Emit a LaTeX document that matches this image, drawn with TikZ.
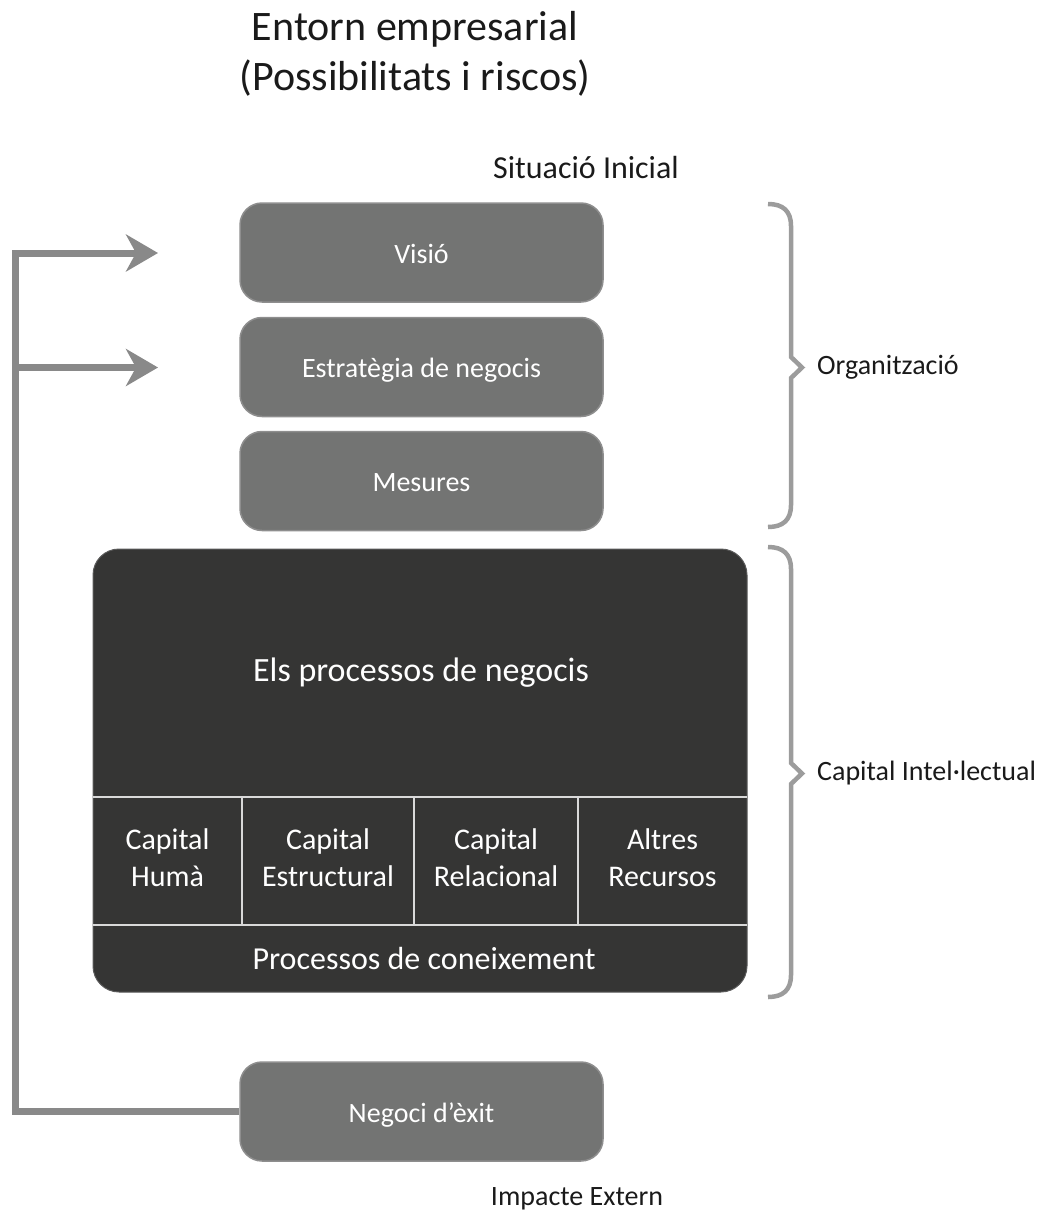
\documentclass[tikz,border=0pt]{standalone}
\usepackage{fontspec}
\setmainfont{Carlito}
\usetikzlibrary{arrows.meta}
\definecolor{boxgray}{HTML}{737473}
\definecolor{boxedge}{HTML}{8E8E8E}
\definecolor{darkfill}{HTML}{353534}
\definecolor{darkedge}{HTML}{5A5A5A}
\definecolor{linkgray}{HTML}{898989}
\definecolor{bracegray}{HTML}{9C9C9C}
\definecolor{celledge}{HTML}{D9D9D9}
\definecolor{labeltext}{HTML}{1A1A1A}
\begin{document}
\begin{tikzpicture}[x=1pt,y=-1pt,
  stagebox/.style={rectangle, rounded corners=22pt, fill=boxgray, draw=boxedge,
    line width=1.5pt, minimum width=363pt, minimum height=99pt, inner sep=0pt,
    text height=21pt, text depth=0pt,
    text=white, font=\fontsize{28}{34}\selectfont},
  corebox/.style={rectangle, rounded corners=26pt, fill=darkfill, draw=darkedge,
    line width=1pt, minimum width=654pt, minimum height=443pt, inner sep=0pt},
  coretext/.style={text=white, align=center, inner sep=0pt},
  cellline/.style={draw=celledge, line width=2pt},
  sidelabel/.style={text=labeltext, inner sep=0pt, font=\fontsize{28}{34}\selectfont},
  link/.style={draw=linkgray, line width=7pt, line join=miter},
  linktip/.style={-{Stealth[length=32pt, width=37pt, inset=10pt]}},
  bracket/.style={draw=bracegray, line width=4.5pt, line join=miter}]

\useasboundingbox (0,0) rectangle (1045,1218);

% heading
\node[text=labeltext, align=center, inner sep=0pt, font=\fontsize{42}{50}\selectfont]
  (title) at (415,54) {Entorn empresarial\\(Possibilitats i riscos)};
\node[sidelabel, font=\fontsize{32}{36}\selectfont] (start) at (586,168) {Situació Inicial};

% organisation stack
\node[stagebox] (vis) at (421.5,252.5) {Visió};
\node[stagebox] (est) at (421.5,367) {Estratègia de negocis};
\node[stagebox] (mes) at (421.5,481) {Mesures};

% intellectual capital block
\node[corebox] (core) at (420,770.5) {};
\draw[cellline] (93,797) -- (747,797);
\draw[cellline] (93,925) -- (747,925);
\draw[cellline] (242,797) -- (242,925);
\draw[cellline] (414,797) -- (414,925);
\draw[cellline] (578,797) -- (578,925);
\node[coretext, font=\fontsize{34}{40}\selectfont] (proc) at (421,673) {Els processos de negocis};
\node[coretext, font=\fontsize{30}{37}\selectfont] (hum) at (167.5,857.5) {Capital\\Humà};
\node[coretext, font=\fontsize{30}{37}\selectfont] (str) at (328,857.5) {Capital\\Estructural};
\node[coretext, font=\fontsize{30}{37}\selectfont] (rel) at (496,857.5) {Capital\\Relacional};
\node[coretext, font=\fontsize{30}{37}\selectfont] (alt) at (662.5,857.5) {Altres\\Recursos};
\node[coretext, font=\fontsize{32}{38}\selectfont] (know) at (424,958) {Processos de coneixement};

% outcome
\node[stagebox] (neg) at (421.5,1111.5) {Negoci d’èxit};
\node[sidelabel] (ext) at (577,1199) {Impacte Extern};

% feedback loop
\coordinate (loopbot) at (15,1111.5);
\coordinate (looptop) at (15,253);
\coordinate (loopmid) at (15,367.5);
\coordinate (tipvis) at (158,253);
\coordinate (tipest) at (158,367.5);
\draw[link, linktip] (neg.west) -- (loopbot) -- (looptop) -- (tipvis);
\draw[link, linktip] (loopmid) -- (tipest);

% braces
\draw[bracket] (768,204) .. controls (783,204) and (791,211) .. (791,226)
  -- (791,357) -- (802,367.5) -- (791,378) -- (791,505)
  .. controls (791,520) and (783,527) .. (768,527);
\draw[bracket] (768,547) .. controls (783,547) and (791,554) .. (791,569)
  -- (791,763) -- (802,773.5) -- (791,784) -- (791,975)
  .. controls (791,990) and (783,997) .. (768,997);
\node[sidelabel, anchor=west] (org) at (817,367.5) {Organització};
\node[sidelabel, anchor=west] (cap) at (817,773.5) {Capital Intel·lectual};
\end{tikzpicture}
\end{document}
